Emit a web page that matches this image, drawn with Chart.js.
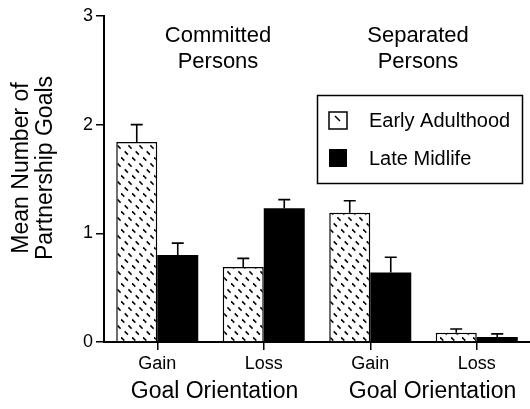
<!DOCTYPE html>
<html>
<head>
<meta charset="utf-8">
<script src="https://cdn.jsdelivr.net/npm/chart.js@4.4.1/dist/chart.umd.min.js"></script>
<style>
  html, body { margin: 0; padding: 0; background: #fff; }
  #wrap { width: 530px; height: 409px; }
</style>
</head>
<body>
<div id="wrap"><canvas id="chart" width="530" height="409"></canvas></div>
<script>
// ── Data ─────────────────────────────────────────────────────────
const categories  = ["Gain", "Loss", "Gain", "Loss"];
const groups      = ["Committed\nPersons", "Separated\nPersons"];
const earlyAdult  = [1.84, 0.69, 1.19, 0.085];
const earlyErr    = [0.16, 0.08, 0.11, 0.035];
const lateMid     = [0.80, 1.23, 0.64, 0.045];
const lateErr     = [0.11, 0.08, 0.14, 0.03];
const yTicks      = [0, 1, 2, 3];

const FONT = "'Liberation Sans', Arial, Helvetica, sans-serif";

// hatch pattern: short "\" dashes laid along "/" rows
function hatch() {
  const c = document.createElement("canvas");
  c.width = 11; c.height = 18;
  const g = c.getContext("2d");
  g.fillStyle = "#fff";
  g.fillRect(0, 0, 11, 18);
  g.strokeStyle = "#000";
  g.lineWidth = 1.5;
  [[9, 3], [5.3, 9], [1.7, 15]].forEach(([cx, cy]) => {
    g.beginPath();
    g.moveTo(cx - 1.6, cy - 1.6);
    g.lineTo(cx + 1.6, cy + 1.6);
    g.stroke();
  });
  return document.getElementById("chart").getContext("2d").createPattern(c, "repeat");
}
const pattern = hatch();

// ── Error bars ───────────────────────────────────────────────────
const errorBars = {
  id: "errorBars",
  afterDatasetsDraw(chart) {
    const ctx = chart.ctx, y = chart.scales.y;
    chart.data.datasets.forEach((ds, i) => {
      chart.getDatasetMeta(i).data.forEach((el, j) => {
        const top = y.getPixelForValue(ds.data[j] + ds.errors[j]);
        ctx.save();
        ctx.strokeStyle = "#000";
        ctx.lineWidth = 1.6;
        ctx.beginPath();
        ctx.moveTo(el.x, el.y);
        ctx.lineTo(el.x, top);
        ctx.moveTo(el.x - 6, top);
        ctx.lineTo(el.x + 6, top);
        ctx.stroke();
        ctx.restore();
      });
    });
  }
};

// ── Texts + legend ───────────────────────────────────────────────
const annotations = {
  id: "annotations",
  afterDraw(chart) {
    const ctx = chart.ctx, x = chart.scales.x;
    ctx.save();
    ctx.fillStyle = "#000";
    ctx.textAlign = "center";
    ctx.textBaseline = "middle";

    // y title
    ctx.save();
    ctx.translate(34, 168);
    ctx.rotate(-Math.PI / 2);
    ctx.font = `23px ${FONT}`;
    ctx.fillText("Mean Number of", 0, -12);
    ctx.fillText("Partnership Goals", 0, 12);
    ctx.restore();

    // group labels
    ctx.font = `22px ${FONT}`;
    const gx = [218, 418];
    groups.forEach((g, i) => {
      g.split("\n").forEach((line, k) => ctx.fillText(line, gx[i], 36 + k * 26));
    });

    // axis titles under each pair
    ctx.font = `23px ${FONT}`;
    ctx.fillText("Goal Orientation", (x.getPixelForValue(0) + x.getPixelForValue(1)) / 2 + 4, 392);
    ctx.fillText("Goal Orientation", (x.getPixelForValue(2) + x.getPixelForValue(3)) / 2 + 9, 392);

    // legend
    ctx.strokeStyle = "#000";
    ctx.lineWidth = 1.5;
    ctx.strokeRect(317.5, 95.5, 205, 88);
    ctx.fillStyle = "#fff";
    ctx.fillRect(329, 112, 18, 17);
    ctx.strokeRect(329, 112, 18, 17);
    ctx.beginPath();
    ctx.moveTo(335, 116);
    ctx.lineTo(340, 121);
    ctx.stroke();
    ctx.fillStyle = "#000";
    ctx.fillRect(329, 149, 18, 18);
    ctx.textAlign = "left";
    ctx.font = `20px ${FONT}`;
    chart.data.datasets.forEach((ds, i) => ctx.fillText(ds.label, 369, 121 + i * 38));
    ctx.restore();
  }
};

new Chart(document.getElementById("chart"), {
  type: "bar",
  data: {
    labels: categories,
    datasets: [
      { label: "Early Adulthood", data: earlyAdult, errors: earlyErr,
        backgroundColor: pattern, borderColor: "#000", borderWidth: 1.5 },
      { label: "Late Midlife", data: lateMid, errors: lateErr,
        backgroundColor: "#000", borderColor: "#000", borderWidth: 0 },
    ]
  },
  options: {
    responsive: false,
    animation: false,
    categoryPercentage: 0.77,
    barPercentage: 1.0,
    layout: { padding: { top: 16, right: 0, left: 0, bottom: 0 } },
    plugins: { legend: { display: false }, tooltip: { enabled: false } },
    scales: {
      x: {
        afterFit: s => { s.height = 67; },
        grid: { offset: false, drawOnChartArea: false, tickLength: 8, color: "#000", lineWidth: 1.5 },
        border: { color: "#000", width: 2 },
        ticks: { color: "#000", font: { family: FONT, size: 18 }, padding: 3 }
      },
      y: {
        min: 0, max: 3,
        afterFit: s => { s.width = 104; },
        afterBuildTicks: s => { s.ticks = yTicks.map(v => ({ value: v })); },
        grid: { drawOnChartArea: false, tickLength: 8, color: "#000", lineWidth: 1.5 },
        border: { color: "#000", width: 2 },
        ticks: { color: "#000", font: { family: FONT, size: 18 }, padding: 3 }
      }
    }
  },
  plugins: [errorBars, annotations]
});
</script>
</body>
</html>
